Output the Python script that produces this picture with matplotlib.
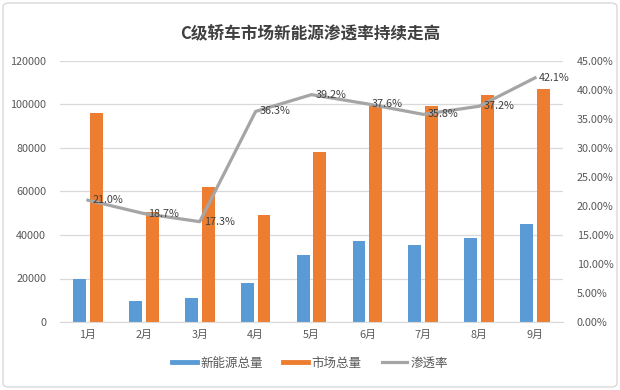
import matplotlib
matplotlib.use("Agg")
import matplotlib.pyplot as plt
import numpy as np
from matplotlib.lines import Line2D
from matplotlib.patches import FancyBboxPatch
from matplotlib.ticker import FuncFormatter

plt.rcParams['font.family'] = ['Noto Sans CJK SC', 'DejaVu Sans']

months = ["1月", "2月", "3月", "4月", "5月", "6月", "7月", "8月", "9月"]
nev_total = [20000, 9500, 10900, 17900, 30700, 37200, 35400, 38800, 45100]
market_total = [96000, 50600, 62200, 49200, 78000, 99300, 99300, 104200, 107000]
penetration = [21.0, 18.7, 17.3, 36.3, 39.2, 37.6, 35.8, 37.2, 42.1]
series_names = ["新能源总量", "市场总量", "渗透率"]
title = "C级轿车市场新能源渗透率持续走高"

c_blue = "#5B9BD5"
c_orange = "#ED7D31"
c_gray = "#A5A5A5"
txt = "#595959"

fig = plt.figure(figsize=(6.2, 3.9), dpi=100)
ax = fig.add_axes([60/620, 1-322/390, (563-60)/620, (322-61)/390])
ax2 = ax.twinx()

x = np.arange(len(months))
w = 0.23
ax.bar(x - 0.15, nev_total, width=w, color=c_blue, zorder=2)
ax.bar(x + 0.15, market_total, width=w, color=c_orange, zorder=2)

ax.set_xlim(-0.5, len(months) - 0.5)
ax.set_ylim(0, 120000)
ax.set_yticks(np.arange(0, 120001, 20000))
ax.yaxis.grid(True, color="#D9D9D9", linewidth=0.9)
ax.set_axisbelow(True)
for s in ["top", "left", "right"]:
    ax.spines[s].set_visible(False)
ax.spines["bottom"].set_color("#D9D9D9")
ax.tick_params(axis="y", length=0, pad=10, labelsize=7.8, labelcolor=txt)
ax.tick_params(axis="x", length=0, pad=6, labelsize=7.8, labelcolor=txt)
ax.set_xticks(x)
ax.set_xticklabels(months)

ax2.plot(x, penetration, color=c_gray, linewidth=2.3, zorder=3)
ax2.set_ylim(0, 45)
ax2.set_yticks(np.arange(0, 45.01, 5))
ax2.yaxis.set_major_formatter(FuncFormatter(lambda v, p: f"{v:.2f}%"))
for s in ["top", "left", "right", "bottom"]:
    ax2.spines[s].set_visible(False)
ax2.tick_params(axis="y", length=0, pad=10, labelsize=7.8, labelcolor=txt)
for xi, v in zip(x, penetration):
    ax2.annotate(f"{v:.1f}%", (xi, v), xytext=(3, 0), textcoords="offset points",
                 ha="left", va="center", fontsize=7.8, color="#404040", zorder=4)

fig.text(0.5, 1-33/390, title, ha="center", va="center", fontsize=12,
         fontweight="bold", color="#404040")

handles = [Line2D([], [], color=c_blue, linewidth=3.5),
           Line2D([], [], color=c_orange, linewidth=3.5),
           Line2D([], [], color=c_gray, linewidth=2.3)]
fig.legend(handles, series_names, loc="center", bbox_to_anchor=(0.5, 1-363/390),
           ncol=3, frameon=False, fontsize=9, handlelength=2.0, handletextpad=0.3,
           columnspacing=1.6, labelcolor=txt)

border = FancyBboxPatch((3/620, 3/390), 1-6/620, 1-6/390,
                        boxstyle="round,pad=0,rounding_size=0.01",
                        transform=fig.transFigure, fill=False,
                        edgecolor="#D9D9D9", linewidth=1.0)
fig.patches.append(border)

fig.savefig("out.png", dpi=100)
